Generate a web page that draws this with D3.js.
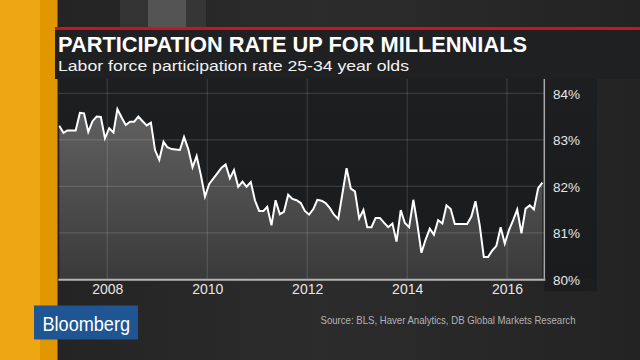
<!DOCTYPE html>
<html>
<head>
<meta charset="utf-8">
<script src="https://cdn.jsdelivr.net/npm/d3@7"></script>
<style>
  html, body { margin: 0; padding: 0; background: #242424; }
  svg { display: block; }
  text { font-family: "Liberation Sans", Arial, sans-serif; }
</style>
</head>
<body>
<svg id="chart" width="640" height="360"></svg>
<script>
// ---------------- data ----------------
const title = "PARTICIPATION RATE UP FOR MILLENNIALS";
const subtitle = "Labor force participation rate 25-34 year olds";
const source = "Source: BLS, Haver Analytics, DB Global Markets Research";
const startYear = 2007;   // monthly series from Jan 2007
const values = [
  // 2007
  83.30, 83.15, 83.20, 83.20, 83.20, 83.58, 83.57, 83.17, 83.40, 83.50, 83.49, 83.03,
  // 2008
  83.25, 83.16, 83.66, 83.48, 83.32, 83.39, 83.39, 83.50, 83.40, 83.31, 83.37, 82.78,
  // 2009
  82.57, 82.96, 82.84, 82.80, 82.79, 82.78, 83.06, 82.80, 82.41, 82.65, 82.24, 81.78,
  // 2010
  82.05, 82.17, 82.28, 82.40, 82.47, 82.17, 82.35, 81.99, 82.10, 81.99, 82.09, 81.70,
  // 2011
  81.47, 81.47, 81.56, 81.16, 81.70, 81.40, 81.45, 81.82, 81.73, 81.70, 81.64, 81.47,
  // 2012
  81.39, 81.51, 81.71, 81.69, 81.64, 81.53, 81.39, 81.30, 81.85, 82.39, 81.95, 81.89,
  // 2013
  81.31, 81.49, 81.12, 81.12, 81.32, 81.32, 81.22, 81.12, 81.20, 80.81, 81.49, 81.21,
  // 2014
  81.12, 81.71, 81.21, 80.57, 80.85, 81.09, 80.96, 81.27, 81.20, 81.59, 81.51, 81.19,
  // 2015
  81.19, 81.19, 81.19, 81.35, 81.68, 81.16, 80.48, 80.48, 80.62, 80.72, 81.12, 80.77,
  // 2016
  81.06, 81.28, 81.50, 80.99, 81.52, 81.59, 81.50, 81.96, 82.08
];
const yTicks = [80, 81, 82, 83, 84];
const xTickYears = [2008, 2010, 2012, 2014, 2016];

const data = values.map((v, i) => ({ date: new Date(startYear, i, 15), value: v }));

// ---------------- layout ----------------
const svg = d3.select("#chart");
const W = 640, H = 360;
const plot = { left: 58.3, right: 544.3, top: 79, bottom: 279.3 };

const x = d3.scaleTime()
  .domain([new Date(2007, 0, 8), new Date(2016, 8, 29)])
  .range([plot.left, plot.right]);
const y = d3.scaleLinear()
  .domain([80, 84])
  .range([plot.bottom, 93.3]);

const defs = svg.append("defs");
const bgGrad = defs.append("linearGradient").attr("id", "bg").attr("x1", 0).attr("y1", 0).attr("x2", 1).attr("y2", 0);
bgGrad.append("stop").attr("offset", "0%").attr("stop-color", "#222222");
bgGrad.append("stop").attr("offset", "50%").attr("stop-color", "#2c2c2c");
bgGrad.append("stop").attr("offset", "100%").attr("stop-color", "#232323");

const fillGrad = defs.append("linearGradient").attr("id", "fillg")
  .attr("gradientUnits", "userSpaceOnUse")
  .attr("x1", 0).attr("y1", 100).attr("x2", 0).attr("y2", plot.bottom);
fillGrad.append("stop").attr("offset", "0%").attr("stop-color", "#636363");
fillGrad.append("stop").attr("offset", "100%").attr("stop-color", "#3a3a3a");

const plotBg = defs.append("linearGradient").attr("id", "plotbg")
  .attr("x1", 0).attr("y1", 0).attr("x2", 0).attr("y2", 1);
plotBg.append("stop").attr("offset", "0%").attr("stop-color", "#1d1e20");
plotBg.append("stop").attr("offset", "100%").attr("stop-color", "#1a1b1d");

defs.append("clipPath").attr("id", "plotclip")
  .append("rect").attr("x", plot.left).attr("y", plot.top)
  .attr("width", plot.right - plot.left).attr("height", plot.bottom - plot.top);

// background
svg.append("rect").attr("width", W).attr("height", H).attr("fill", "url(#bg)");
// faint video bands at the top
svg.append("rect").attr("x", 148).attr("y", 0).attr("width", 38).attr("height", 28).attr("fill", "#545454");
svg.append("rect").attr("x", 120).attr("y", 0).attr("width", 28).attr("height", 28).attr("fill", "#333333");
svg.append("rect").attr("x", 186).attr("y", 0).attr("width", 20).attr("height", 28).attr("fill", "#363636");

// orange side stripe
svg.append("rect").attr("x", 0).attr("y", 0).attr("width", 40).attr("height", H).attr("fill", "#eea713");
svg.append("rect").attr("x", 40).attr("y", 0).attr("width", 17.5).attr("height", H).attr("fill", "#e09700");

// title block
svg.append("rect").attr("x", 55).attr("y", 28).attr("width", W - 55).attr("height", 51).attr("fill", "#1f2022");
svg.append("rect").attr("x", 55).attr("y", 27).attr("width", W - 55).attr("height", 3).attr("fill", "#c8161e");

svg.append("text").attr("x", 58).attr("y", 52)
  .attr("fill", "#ffffff").attr("font-size", 21.5).attr("font-weight", "bold")
  .attr("textLength", 469).attr("lengthAdjust", "spacingAndGlyphs")
  .text(title);
svg.append("text").attr("x", 58).attr("y", 70.5)
  .attr("fill", "#f2f2f2").attr("font-size", 15.5)
  .attr("textLength", 351).attr("lengthAdjust", "spacingAndGlyphs")
  .text(subtitle);

// plot panel + label panel
svg.append("rect").attr("x", plot.left).attr("y", plot.top)
  .attr("width", 597 - plot.left).attr("height", plot.bottom - plot.top)
  .attr("fill", "url(#plotbg)");
svg.append("rect").attr("x", plot.right).attr("y", plot.bottom)
  .attr("width", 597 - plot.right).attr("height", 12).attr("fill", "#1c1d1f");

const g = svg.append("g").attr("clip-path", "url(#plotclip)");

// area
const area = d3.area()
  .x(d => x(d.date))
  .y0(plot.bottom)
  .y1(d => y(d.value));
g.append("path").datum(data).attr("d", area).attr("fill", "url(#fillg)");

// gridlines
g.selectAll("line.hg").data(yTicks.filter(t => t > 80)).enter().append("line")
  .attr("x1", plot.left).attr("x2", plot.right)
  .attr("y1", d => y(d)).attr("y2", d => y(d))
  .attr("stroke", "rgba(255,255,255,0.13)").attr("stroke-width", 1.2);
g.selectAll("line.vg").data(xTickYears).enter().append("line")
  .attr("x1", d => x(new Date(d, 0, 1))).attr("x2", d => x(new Date(d, 0, 1)))
  .attr("y1", plot.top).attr("y2", plot.bottom)
  .attr("stroke", "rgba(255,255,255,0.13)").attr("stroke-width", 1.2);

// line
const line = d3.line().x(d => x(d.date)).y(d => y(d.value));
g.append("path").datum(data).attr("d", line)
  .attr("fill", "none").attr("stroke", "#ffffff").attr("stroke-width", 2)
  .attr("stroke-linejoin", "miter");

// axis lines
svg.append("line").attr("x1", plot.left).attr("x2", plot.right + 1)
  .attr("y1", plot.bottom + 0.5).attr("y2", plot.bottom + 0.5)
  .attr("stroke", "#b5b5b5").attr("stroke-width", 2);
svg.append("line").attr("x1", plot.right).attr("x2", plot.right)
  .attr("y1", plot.top).attr("y2", plot.bottom + 1)
  .attr("stroke", "#a8a8a8").attr("stroke-width", 1.5);

// y axis (right)
const yAxis = d3.axisRight(y).tickValues(yTicks).tickSize(0).tickPadding(0)
  .tickFormat(d => d + "%");
const ya = svg.append("g").attr("transform", `translate(553,0)`).call(yAxis);
ya.select(".domain").remove();
ya.selectAll("text").attr("fill", "#e6e6e6").attr("font-size", 13.5)
  .attr("font-family", "Liberation Sans, Arial, sans-serif").attr("dy", "0.36em").attr("x", 0);

// x axis
const xAxis = d3.axisBottom(x).tickValues(xTickYears.map(yy => new Date(yy, 0, 1)))
  .tickSize(0).tickPadding(0).tickFormat(d3.timeFormat("%Y"));
const xa = svg.append("g").attr("transform", `translate(0,${plot.bottom})`).call(xAxis);
xa.select(".domain").remove();
xa.selectAll("text").attr("fill", "#e6e6e6").attr("font-size", 14)
  .attr("font-family", "Liberation Sans, Arial, sans-serif").attr("y", 14.5).attr("dy", 0);

// source
svg.append("text").attr("x", 575.5).attr("y", 323.5).attr("text-anchor", "end")
  .attr("fill", "#b3b3b3").attr("font-size", 11.5)
  .attr("textLength", 255).attr("lengthAdjust", "spacingAndGlyphs")
  .text(source);

// Bloomberg logo
svg.append("rect").attr("x", 34).attr("y", 305.5).attr("width", 104).attr("height", 34).attr("fill", "#1e5592");
svg.append("text").attr("x", 42.5).attr("y", 331).attr("fill", "#ffffff")
  .attr("font-family", "Roboto, Liberation Sans, sans-serif").attr("font-weight", 500)
  .attr("font-size", 21).attr("textLength", 87.5).attr("lengthAdjust", "spacingAndGlyphs")
  .text("Bloomberg");
</script>
</body>
</html>
